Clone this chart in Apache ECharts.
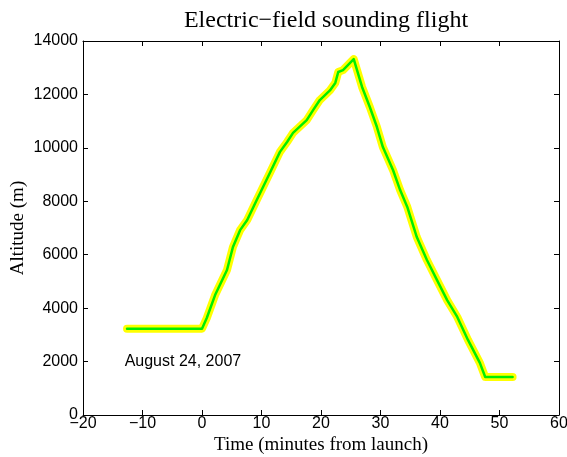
<!DOCTYPE html>
<html>
<head>
<meta charset="utf-8">
<script src="https://cdn.jsdelivr.net/npm/echarts@6/dist/echarts.min.js"></script>
<style>
  html, body { margin: 0; padding: 0; background: #fff; }
  #chart { width: 567px; height: 457px; }
</style>
</head>
<body>
<div id="chart"></div>
<script>
// flight track
var timeMin = [-12.6, 0, 0.8, 2.2, 4.2, 5.2, 6.4, 7.6, 9.1, 11.4, 13.1, 14.3, 15.3, 17.6,
  18.7, 19.8, 21.5, 22.4, 22.9, 23.7, 25.5, 26.9, 28.2, 29.4, 30.4, 32.1, 33.3, 34.5, 36.1,
  37.8, 39.5, 41.2, 42.9, 44.7, 46.7, 47.6, 52.2];
var altitude = [3230, 3230, 3630, 4490, 5430, 6290, 6920, 7300, 8000, 9060, 9850, 10220, 10560, 11040,
  11420, 11790, 12150, 12430, 12840, 12910, 13320, 12280, 11530, 10780, 10030, 9170, 8420, 7790, 6660,
  5800, 5050, 4300, 3670, 2810, 1950, 1420, 1420];
var xTicks = [-20, -10, 0, 10, 20, 30, 40, 50, 60];
var yTicks = [0, 2000, 4000, 6000, 8000, 10000, 12000, 14000];
var dateNote = { x: -13, y: 2000, text: "August 24, 2007" };

var track = timeMin.map(function (t, i) { return [t, altitude[i]]; });

var sans = "Liberation Sans";
var serif = "Liberation Serif";

function minus(v) {
  return String(v).replace("-", "\u2212");
}

// axis with ticks inward, used for all four sides
function boxAxis(pos, min, max, step, labels) {
  return {
    type: "value",
    position: pos,
    min: min,
    max: max,
    interval: step,
    nameMoveOverlap: false,
    splitLine: { show: false },
    axisLine: { show: true, onZero: false, lineStyle: { color: "#000", width: 1 } },
    axisTick: { show: true, inside: true, length: 5, lineStyle: { color: "#000" } },
    axisLabel: {
      show: labels,
      color: "#000",
      fontFamily: sans,
      fontSize: 16,
      formatter: minus,
    },
  };
}

var xBottom = boxAxis("bottom", xTicks[0], xTicks[xTicks.length - 1], 10, true);
xBottom.axisLabel.margin = 1;
xBottom.axisLabel.showMinLabel = true;
xBottom.axisLabel.showMaxLabel = true;
xBottom.name = "Time (minutes from launch)";
xBottom.nameLocation = "middle";
xBottom.nameGap = 21;
xBottom.nameTextStyle = { fontFamily: serif, fontSize: 19, color: "#000", verticalAlign: "top" };

var yLeft = boxAxis("left", yTicks[0], yTicks[yTicks.length - 1], 2000, true);
yLeft.axisLabel.margin = 5;
yLeft.axisLabel.padding = [3, 0, 0, 0];
yLeft.name = "Altitude (m)";
yLeft.nameLocation = "middle";
yLeft.nameGap = 65;
yLeft.nameTextStyle = { fontFamily: serif, fontSize: 19, color: "#000", verticalAlign: "middle" };

var myChart = echarts.init(document.getElementById("chart"));
myChart.setOption({
  animation: false,
  backgroundColor: "#fff",
  title: {
    text: "Electric\u2212field sounding flight",
    left: 321,
    textAlign: "center",
    top: 4,
    textStyle: { fontFamily: serif, fontSize: 24, fontWeight: "normal", color: "#000" },
  },
  grid: { left: 83, top: 41, right: 8, bottom: 42, containLabel: false, outerBoundsMode: "none" },
  xAxis: [xBottom, boxAxis("top", xTicks[0], xTicks[xTicks.length - 1], 10, false)],
  yAxis: [yLeft, boxAxis("right", yTicks[0], yTicks[yTicks.length - 1], 2000, false)],
  series: [
    {
      // wide yellow halo
      type: "line",
      data: track,
      showSymbol: false,
      symbol: "none",
      lineStyle: { color: "#ffff00", width: 8, cap: "round", join: "round" },
      z: 2,
    },
    {
      type: "line",
      data: track,
      showSymbol: false,
      symbol: "none",
      lineStyle: { color: "#00ee00", width: 2.5, cap: "round", join: "round" },
      z: 3,
      markPoint: {
        symbol: "circle",
        symbolSize: 0,
        silent: true,
        label: {
          show: true,
          position: "right",
          distance: 0,
          color: "#000",
          fontFamily: sans,
          fontSize: 16,
          formatter: dateNote.text,
        },
        data: [{ coord: [dateNote.x, dateNote.y] }],
      },
    },
  ],
});
</script>
</body>
</html>
